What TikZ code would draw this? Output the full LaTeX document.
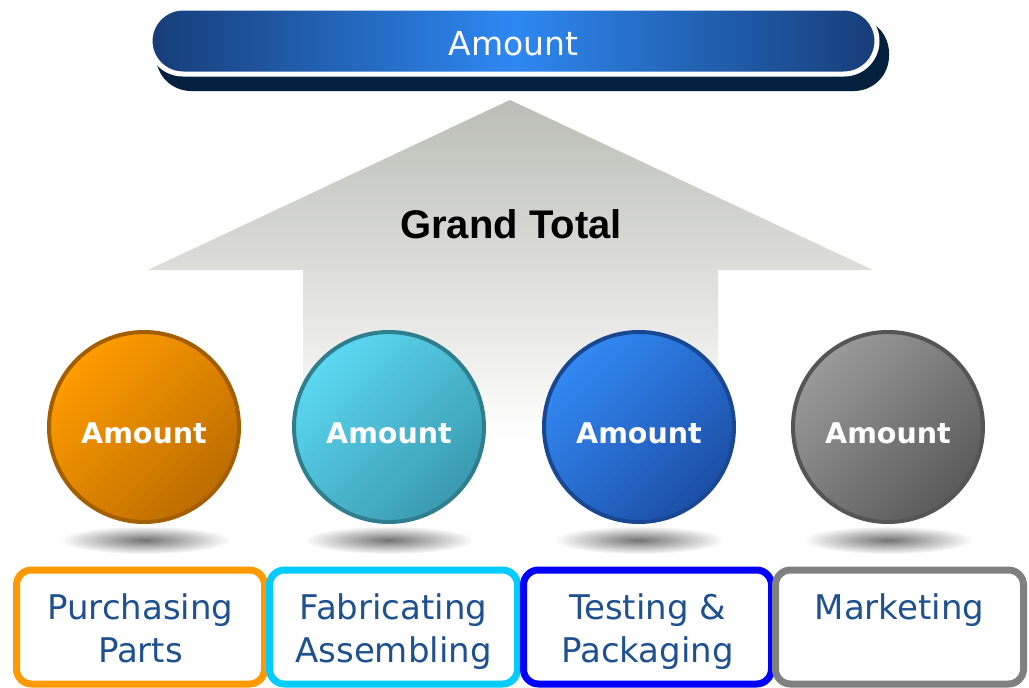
\documentclass[tikz,border=0pt]{standalone}
\usepackage{fontspec}
\setmainfont{DejaVu Sans}
\newfontfamily\arialfont{Liberation Sans}
\usetikzlibrary{positioning}

\definecolor{barDark}{HTML}{173D78}
\definecolor{barLight}{HTML}{2E88F2}
\definecolor{barShadow}{HTML}{03203F}
\definecolor{arrowGray}{HTML}{BBBDB6}
\definecolor{stageText}{HTML}{1F5090}
\definecolor{oTop}{HTML}{FF9C00}
\definecolor{oBot}{HTML}{BC6C00}
\definecolor{oRing}{HTML}{A35E00}
\definecolor{oBox}{HTML}{FF9900}
\definecolor{cTop}{HTML}{5CD8F2}
\definecolor{cBot}{HTML}{3A9AB0}
\definecolor{cRing}{HTML}{2E7E8E}
\definecolor{cBox}{HTML}{00CCFF}
\definecolor{bTop}{HTML}{3389F4}
\definecolor{bBot}{HTML}{1C4EA6}
\definecolor{bRing}{HTML}{184892}
\definecolor{bBox}{HTML}{0000FF}
\definecolor{gTop}{HTML}{9A9A9A}
\definecolor{gBot}{HTML}{5A5A5A}
\definecolor{gRing}{HTML}{555555}
\definecolor{gBox}{HTML}{808080}

% two text lines of a stage box, all with the same height and depth
\newcommand{\stagelines}[2]{\rule{0pt}{36pt}#1\\#2\vphantom{g}}

\tikzset{
  topbar/.style={rounded corners=33, minimum width=727, minimum height=66,
    draw=white, line width=5, left color=barDark, right color=barDark,
    middle color=barLight, text=white, text height=30pt, text depth=0pt,
    font=\fontsize{33}{36}\selectfont},
  ball/.style n args={3}{circle, minimum size=190, inner sep=0, line width=4,
    draw=#3, top color=#1, bottom color=#2, shading angle=45,
    text=white, text height=32pt, text depth=0pt,
    font=\bfseries\fontsize{28.5}{30}\selectfont},
  ballshadow/.style={inner color=black!55, outer color=white},
  stage/.style={draw=#1, fill=white, line width=7, rounded corners=15,
    minimum width=248, minimum height=114, align=center, text=stageText,
    font=\fontsize{34}{43}\selectfont}
}

\begin{document}
\begin{tikzpicture}[x=1pt,y=1pt]
\useasboundingbox (0,0) rectangle (1029,-688);

% big arrow
\shade[top color=arrowGray, bottom color=white]
  (510,-100) -- (873,-270) -- (718,-270) -- (718,-440)
  -- (303,-440) -- (303,-270) -- (148,-270) -- cycle;
\node[font=\arialfont\bfseries\fontsize{40}{42}\selectfont] (grand) at (511,-224) {Grand Total};

% top bar
\fill[barShadow, rounded corners=35] (156,-18) rectangle (889,-91);
\node[topbar] (total) at (513.5,-41) {Amount};

% shadows under balls
\shade[ballshadow] (145,-540) ellipse [x radius=85, y radius=14];
\shade[ballshadow] (389,-540) ellipse [x radius=85, y radius=14];
\shade[ballshadow] (639,-540) ellipse [x radius=85, y radius=14];
\shade[ballshadow] (888,-540) ellipse [x radius=85, y radius=14];

% balls
\node[ball={oTop}{oBot}{oRing}] (b1) at (144,-427) {Amount};
\node[ball={cTop}{cBot}{cRing}] (b2) at (389,-427) {Amount};
\node[ball={bTop}{bBot}{bRing}] (b3) at (639,-427) {Amount};
\node[ball={gTop}{gBot}{gRing}] (b4) at (888,-427) {Amount};

% stages
\node[stage=oBox] (s1) at (140.5,-627) {\stagelines{Purchasing}{Parts}};
\node[stage=cBox] (s2) at (393.5,-627) {\stagelines{Fabricating}{Assembling}};
\node[stage=bBox] (s3) at (647.5,-627) {\stagelines{Testing \&}{Packaging}};
\node[stage=gBox] (s4) at (899.5,-627) {\stagelines{Marketing}{\phantom{Parts}}};

\end{tikzpicture}
\end{document}
